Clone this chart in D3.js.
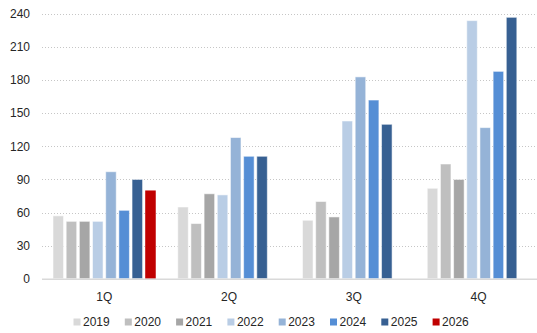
<!DOCTYPE html>
<html>
<head>
<meta charset="utf-8">
<script src="https://cdn.jsdelivr.net/npm/d3@7"></script>
<style>
  body { margin: 0; background: #fff; }
  text { font-family: "Liberation Sans", Arial, sans-serif; fill: #262626; }
</style>
</head>
<body>
<div id="chart"></div>
<script>
const width = 537,
      height = 333,
      margin = {top: 14, bottom: 54, left: 42, right: -4};

const quarters = ["1Q", "2Q", "3Q", "4Q"];
const years = ["2019", "2020", "2021", "2022", "2023", "2024", "2025", "2026"];
const yTicks = [0, 30, 60, 90, 120, 150, 180, 210, 240];
const colors = ["#d9d9d9", "#bfbfbf", "#a6a6a6", "#b9cde5", "#95b3d7", "#558ed5", "#376092", "#c00000"];

// values per year, in quarter order (null = no bar)
const v2019 = [57, 65, 53, 82];
const v2020 = [52, 50, 70, 104];
const v2021 = [52, 77, 56, 90];
const v2022 = [52, 76, 143, 234];
const v2023 = [97, 128, 183, 137];
const v2024 = [62, 111, 162, 188];
const v2025 = [90, 111, 140, 237];
const v2026 = [80, null, null, null];
const series = [v2019, v2020, v2021, v2022, v2023, v2024, v2025, v2026];

const svg = d3.select("#chart")
  .append("svg")
  .attr("width", width)
  .attr("height", height);

const x0 = d3.scaleBand()
  .domain(quarters)
  .range([margin.left, width - margin.right]);

const x1 = d3.scaleBand()
  .domain(years)
  .range([11, x0.bandwidth() - 11])
  .paddingInner(0.2);

const y = d3.scaleLinear()
  .domain([0, 240])
  .range([height - margin.bottom - 0.3, margin.top]);

// gridlines
svg.append("g")
  .selectAll("line")
  .data(yTicks.filter(d => d > 0))
  .enter()
  .append("line")
  .attr("x1", margin.left)
  .attr("x2", width)
  .attr("y1", d => Math.round(y(d)) + 0.5)
  .attr("y2", d => Math.round(y(d)) + 0.5)
  .attr("stroke", "#c6c6c6")
  .attr("stroke-width", 1)
  .attr("stroke-dasharray", "1,2");

// y labels
svg.append("g")
  .selectAll("text")
  .data(yTicks)
  .enter()
  .append("text")
  .attr("x", 30)
  .attr("y", d => y(d))
  .attr("dy", "0.35em")
  .attr("text-anchor", "end")
  .style("font-size", "12px")
  .text(d => d);

// bars
const rows = [];
series.forEach((s, i) => {
  s.forEach((v, j) => {
    if (v !== null) rows.push({year: years[i], quarter: quarters[j], value: v, color: colors[i]});
  });
});

svg.append("g")
  .selectAll("rect")
  .data(rows)
  .enter()
  .append("rect")
  .attr("x", d => x0(d.quarter) + x1(d.year))
  .attr("y", d => y(d.value))
  .attr("width", x1.bandwidth())
  .attr("height", d => y(0) - y(d.value))
  .attr("fill", d => d.color)
  .attr("stroke", d => d.year === "2026" ? "none" : "#ffffff")
  .attr("stroke-opacity", 0.55)
  .attr("stroke-width", 1);

// baseline
svg.append("line")
  .attr("x1", margin.left)
  .attr("x2", width)
  .attr("y1", y(0) + 0.5)
  .attr("y2", y(0) + 0.5)
  .attr("stroke", "#d9d9d9")
  .attr("stroke-width", 1.5);

// category labels
svg.append("g")
  .selectAll("text")
  .data(quarters)
  .enter()
  .append("text")
  .attr("x", d => x0(d) + x0.bandwidth() / 2)
  .attr("y", 297)
  .attr("dy", "0.35em")
  .attr("text-anchor", "middle")
  .style("font-size", "12px")
  .text(d => d);

// legend
const legend = svg.append("g")
  .selectAll("g")
  .data(years)
  .enter()
  .append("g")
  .attr("transform", (d, i) => `translate(${73.5 + i * 51.3}, 322)`);

legend.append("rect")
  .attr("x", 0)
  .attr("y", -3.5)
  .attr("width", 7)
  .attr("height", 7)
  .attr("fill", (d, i) => colors[i]);

legend.append("text")
  .attr("x", 9.5)
  .attr("y", 0)
  .attr("dy", "0.35em")
  .style("font-size", "12px")
  .text(d => d);
</script>
</body>
</html>
